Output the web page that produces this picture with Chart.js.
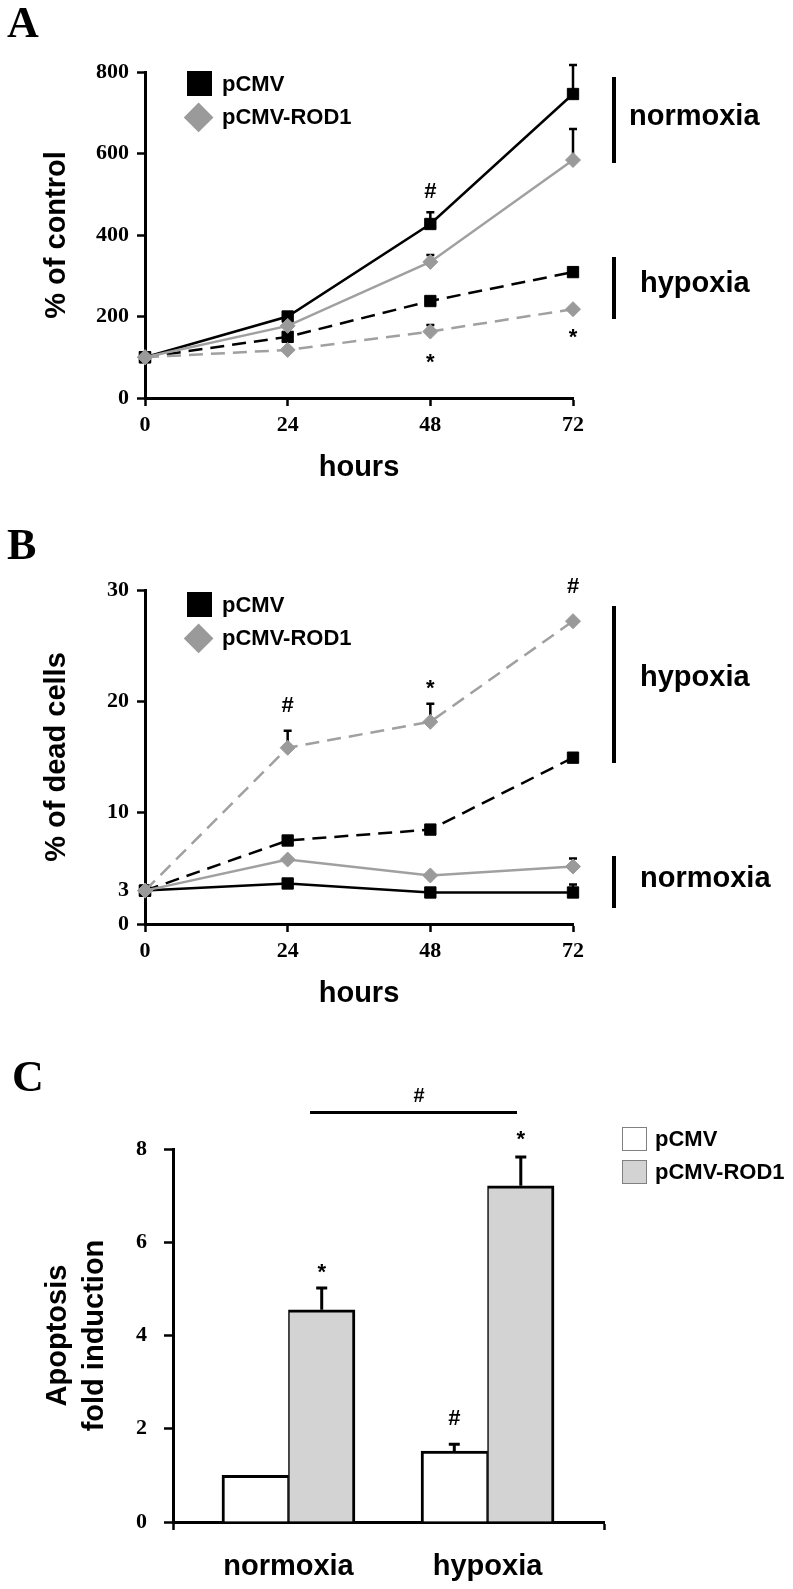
<!DOCTYPE html>
<html>
<head>
<meta charset="utf-8">
<title>ROD1 figure</title>
<script src="https://cdn.jsdelivr.net/npm/chart.js@4.4.1/dist/chart.umd.min.js"></script>
<style>
  html, body { margin:0; padding:0; background:#fff; }
  body { width:793px; height:1589px; position:relative; overflow:hidden; }
  canvas { position:absolute; left:0; }
  .t { position:absolute; font-family:'Liberation Sans', Arial, sans-serif; font-weight:bold; color:#000; white-space:nowrap; line-height:1; }
  .p { position:absolute; font-family:'Liberation Serif', 'Times New Roman', serif; font-weight:bold; color:#000; white-space:nowrap; line-height:1; }
  .blk { position:absolute; }
</style>
</head>
<body>
<canvas id="chartA" width="793" height="510" style="top:0px"></canvas>
<canvas id="chartB" width="793" height="520" style="top:510px"></canvas>
<canvas id="chartC" width="793" height="559" style="top:1030px"></canvas>
<script>
// ---------------- data ----------------
const hours = [0, 24, 48, 72];
const yTicksA = [0, 200, 400, 600, 800];
const yTicksB = [0, 3, 10, 20, 30];
const yTicksBNoMark = [3];
const yTicksC = [0, 2, 4, 6, 8];
const seriesNames = ['pCMV', 'pCMV-ROD1'];
const conditions = ['normoxia', 'hypoxia'];

// Panel A: % of control
const aPCMVNorm = [100, 200, 427, 746];
const aPCMVNormErr = [0, 0, 29, 71];
const aROD1Norm = [100, 177, 334, 584];
const aROD1NormErr = [0, 0, 17, 76];
const aPCMVHyp = [100, 150, 238, 309];
const aPCMVHypErr = [0, 0, 0, 10];
const aROD1Hyp = [100, 118, 163, 218];
const aROD1HypErr = [0, 0, 16, 0];
const aMarks = [{x: 48, y: 505, t: '#'}, {x: 48, y: 98, t: '*'}, {x: 72, y: 160, t: '*'}];

// Panel B: % of dead cells
const bPCMVNorm = [3, 3.64, 2.83, 2.83];
const bPCMVNormErr = [0, 0, 0, 0.72];
const bROD1Norm = [3, 5.79, 4.36, 5.16];
const bROD1NormErr = [0, 0, 0, 0.72];
const bPCMVHyp = [3, 7.5, 8.48, 14.94];
const bPCMVHypErr = [0, 0, 0, 0];
const bROD1Hyp = [3, 15.83, 18.16, 27.2];
const bROD1HypErr = [0, 1.53, 1.62, 0];
const bMarks = [{x: 24, y: 19.6, t: '#'}, {x: 48, y: 21.6, t: '*'}, {x: 72, y: 30.3, t: '#'}];

// Panel C: apoptosis fold induction
const cPCMV = [1.0, 1.52];
const cPCMVErr = [0, 0.15];
const cROD1 = [4.55, 7.21];
const cROD1Err = [0.47, 0.62];
const cMarks = [{ds: 1, i: 0, y: 5.45, t: '*'}, {ds: 0, i: 1, y: 2.21, t: '#'}, {ds: 1, i: 1, y: 8.3, t: '*'}];

// ---------------- styling helpers ----------------
const SANS = "'Liberation Sans', Arial, sans-serif";
const SERIF = "'Liberation Serif', 'Times New Roman', serif";
const BLACK = '#000000';
const GREY_LINE = '#a0a0a0';
const GREY_PT = '#9a9a9a';

function makeErrorBars(cap, width) {
  return {
    id: 'errorBars',
    beforeDatasetsDraw(chart) {
      const ctx = chart.ctx, ys = chart.scales.y;
      chart.data.datasets.forEach((ds, di) => {
        if (!ds.errors) return;
        const meta = chart.getDatasetMeta(di);
        meta.data.forEach((el, i) => {
          const e = ds.errors[i];
          if (!e) return;
          const top = ys.getPixelForValue(ds.data[i].y + e);
          ctx.save();
          ctx.strokeStyle = BLACK; ctx.lineWidth = width;
          ctx.beginPath();
          ctx.moveTo(el.x, el.y); ctx.lineTo(el.x, top);
          ctx.moveTo(el.x - cap, top); ctx.lineTo(el.x + cap, top);
          ctx.stroke();
          ctx.restore();
        });
      });
    }
  };
}

function makeSig(items) {
  return {
    id: 'sigMarks',
    afterDatasetsDraw(chart) {
      const ctx = chart.ctx, ys = chart.scales.y, xs = chart.scales.x;
      const size = 22;
      items.forEach(m => {
        const x = (m.ds !== undefined) ? chart.getDatasetMeta(m.ds).data[m.i].x : xs.getPixelForValue(m.x);
        let y = ys.getPixelForValue(m.y);
        if (m.t === '*') y += 0.24 * size;
        ctx.save();
        ctx.fillStyle = BLACK;
        ctx.font = 'bold ' + size + 'px ' + SANS;
        ctx.textAlign = 'center'; ctx.textBaseline = 'middle';
        ctx.fillText(m.t, x, y);
        ctx.restore();
      });
    }
  };
}

function lineDs(label, vals, errs, grey, dashed) {
  const c = grey ? GREY_LINE : BLACK, p = grey ? GREY_PT : BLACK;
  return {
    label, data: hours.map((h, i) => ({x: h, y: vals[i]})), errors: errs,
    borderColor: c, borderWidth: 2.5, borderDash: dashed ? [14, 8] : [],
    pointStyle: grey ? 'rectRot' : 'rect', pointRadius: grey ? 7.5 : 8,
    pointBackgroundColor: p, pointBorderColor: p, pointBorderWidth: 1,
    tension: 0, fill: false, clip: false
  };
}

function makeLineChart(id, canvasTop, canvasH, areaTop, areaBottom, yTicks, noMark, yTitle, xTitlePad, datasets, marks) {
  return new Chart(document.getElementById(id), {
    type: 'line',
    data: { datasets },
    options: {
      responsive: false, animation: false, devicePixelRatio: 1,
      layout: { padding: { top: areaTop - canvasTop, right: 220, bottom: 0, left: 0 } },
      plugins: { legend: { display: false }, tooltip: { enabled: false } },
      scales: {
        x: {
          type: 'linear', min: hours[0], max: hours[hours.length - 1],
          afterBuildTicks: s => { s.ticks = hours.map(v => ({value: v})); },
          afterFit: s => { s.height = canvasTop + canvasH - areaBottom; },
          border: { display: true, color: BLACK, width: 3 },
          grid: { display: true, offset: false, drawOnChartArea: false, drawTicks: true, tickLength: 8, tickWidth: 2.5, tickColor: BLACK },
          ticks: { color: BLACK, font: { family: SERIF, size: 22, weight: 'bold' }, padding: 6, autoSkip: false, maxRotation: 0 },
          title: { display: true, text: 'hours', color: BLACK, font: { family: SANS, size: 29, weight: 'bold' }, padding: { top: 0, bottom: xTitlePad } }
        },
        y: {
          type: 'linear', min: yTicks[0], max: yTicks[yTicks.length - 1],
          afterBuildTicks: s => { s.ticks = yTicks.map(v => ({value: v})); },
          afterFit: s => { s.width = 145; },
          border: { display: true, color: BLACK, width: 3 },
          grid: { display: true, offset: false, drawOnChartArea: false, drawTicks: true, tickLength: 8, tickWidth: 2.5,
                  tickColor: c => (c.tick && noMark.includes(c.tick.value)) ? 'rgba(0,0,0,0)' : BLACK },
          ticks: { color: BLACK, font: { family: SERIF, size: 22, weight: 'bold' }, padding: 8, autoSkip: false },
          title: { display: true, text: yTitle, color: BLACK, font: { family: SANS, size: 29, weight: 'bold' }, padding: { top: 39.6, bottom: 0 } }
        }
      }
    },
    plugins: [makeErrorBars(4, 2.5), makeSig(marks)]
  });
}

// ---------------- Panel A ----------------
makeLineChart('chartA', 0, 510, 72, 398, yTicksA, [], '% of control', 24.6, [
  lineDs(seriesNames[1] + ' normoxia', aROD1Norm, aROD1NormErr, true, false),
  lineDs(seriesNames[1] + ' hypoxia', aROD1Hyp, aROD1HypErr, true, true),
  lineDs(seriesNames[0] + ' normoxia', aPCMVNorm, aPCMVNormErr, false, false),
  lineDs(seriesNames[0] + ' hypoxia', aPCMVHyp, aPCMVHypErr, false, true)
], aMarks);

// ---------------- Panel B ----------------
makeLineChart('chartB', 510, 520, 590, 924, yTicksB, yTicksBNoMark, '% of dead cells', 18.6, [
  lineDs(seriesNames[1] + ' hypoxia', bROD1Hyp, bROD1HypErr, true, true),
  lineDs(seriesNames[1] + ' normoxia', bROD1Norm, bROD1NormErr, true, false),
  lineDs(seriesNames[0] + ' normoxia', bPCMVNorm, bPCMVNormErr, false, false),
  lineDs(seriesNames[0] + ' hypoxia', bPCMVHyp, bPCMVHypErr, false, true)
], bMarks);

// ---------------- Panel C ----------------
new Chart(document.getElementById('chartC'), {
  type: 'bar',
  data: { datasets: [
    { label: seriesNames[0], data: conditions.map((c, i) => ({x: i + 1, y: cPCMV[i]})), errors: cPCMVErr,
      backgroundColor: '#ffffff', borderColor: BLACK, borderWidth: {top: 3, left: 3, right: 1.5, bottom: 0},
      borderSkipped: 'start', barThickness: 66.5 },
    { label: seriesNames[1], data: conditions.map((c, i) => ({x: i + 1, y: cROD1[i]})), errors: cROD1Err,
      backgroundColor: '#d3d3d3', borderColor: BLACK, borderWidth: {top: 3, left: 1.5, right: 3, bottom: 0},
      borderSkipped: 'start', barThickness: 66.5 }
  ]},
  options: {
    responsive: false, animation: false, devicePixelRatio: 1,
    layout: { padding: { top: 119, right: 189, bottom: 0, left: 0 } },
    plugins: { legend: { display: false }, tooltip: { enabled: false } },
    scales: {
      x: {
        type: 'linear', min: 0.42, max: 2.585, offset: false,
        afterBuildTicks: s => { s.ticks = [s.min].concat(conditions.map((c, i) => i + 1), [s.max]).map(v => ({value: v})); },
        afterFit: s => { s.height = 67; },
        border: { display: true, color: BLACK, width: 3 },
        grid: { display: true, offset: false, drawOnChartArea: false, drawTicks: true, tickLength: 8, tickWidth: 2.5,
                tickColor: c => (c.tick && Number.isInteger(c.tick.value)) ? 'rgba(0,0,0,0)' : BLACK },
        ticks: { color: BLACK, font: { family: SANS, size: 29, weight: 'bold' }, padding: 19.6, autoSkip: false, maxRotation: 0,
                 callback: v => Number.isInteger(v) ? conditions[v - 1] : '' }
      },
      y: {
        type: 'linear', min: yTicksC[0], max: yTicksC[yTicksC.length - 1],
        afterBuildTicks: s => { s.ticks = yTicksC.map(v => ({value: v})); },
        afterFit: s => { s.width = 173; },
        border: { display: true, color: BLACK, width: 3 },
        grid: { display: true, offset: false, drawOnChartArea: false, drawTicks: true, tickLength: 9, tickWidth: 2.5, tickColor: BLACK },
        ticks: { color: BLACK, font: { family: SERIF, size: 22, weight: 'bold' }, padding: 17, autoSkip: false },
        title: { display: true, text: ['Apoptosis', 'fold induction'], color: BLACK,
                 font: { family: SANS, size: 29, weight: 'bold', lineHeight: '37px' }, padding: { top: 39.5, bottom: 0 } }
      }
    }
  },
  plugins: [makeErrorBars(5.5, 3), makeSig(cMarks)]
});

// ---------------- overlay text & legends ----------------
function addText(txt, left, baseline, size, serif) {
  const d = document.createElement('div');
  d.className = serif ? 'p' : 't';
  d.textContent = txt;
  d.style.fontSize = size + 'px';
  d.style.left = left + 'px';
  d.style.top = (baseline - (serif ? 0.8375 : 0.8465) * size) + 'px';
  document.body.appendChild(d);
}
function addBlock(left, top, w, h, css) {
  const d = document.createElement('div');
  d.className = 'blk';
  d.style.left = left + 'px'; d.style.top = top + 'px';
  d.style.width = w + 'px'; d.style.height = h + 'px';
  d.style.cssText += css;
  document.body.appendChild(d);
}
function addDiamond(cx, cy, diag) {
  const s = diag / Math.SQRT2;
  addBlock(cx - s / 2, cy - s / 2, s, s, 'background:' + GREY_PT + ';transform:rotate(45deg);');
}

// panel letters
addText('A', 7, 38, 44, true);
addText('B', 7, 560, 44, true);
addText('C', 12, 1092, 44, true);

// legend A
addBlock(187, 71, 25, 25, 'background:#000;');
addDiamond(199, 118, 30);
addText(seriesNames[0], 222, 91.5, 22);
addText(seriesNames[1], 222, 125, 22);
// legend B
addBlock(187, 592, 25, 25, 'background:#000;');
addDiamond(199, 638.5, 30);
addText(seriesNames[0], 222, 612.5, 22);
addText(seriesNames[1], 222, 646, 22);
// legend C
addBlock(622, 1127, 25, 24, 'box-sizing:border-box;border:1.5px solid #808080;background:#fff;');
addBlock(622, 1160, 25, 24, 'box-sizing:border-box;border:1.5px solid #808080;background:#d3d3d3;');
addText(seriesNames[0], 655, 1147, 22);
addText(seriesNames[1], 655, 1180, 22);

// condition brackets A
addBlock(612, 77, 4, 86, 'background:#000;');
addText(conditions[0], 629, 126, 29);
addBlock(612, 257, 4, 62, 'background:#000;');
addText(conditions[1], 640, 292.5, 29);
// condition brackets B
addBlock(612, 606, 4, 157, 'background:#000;');
addText(conditions[1], 640, 687, 29);
addBlock(612, 856, 4, 52, 'background:#000;');
addText(conditions[0], 640, 888, 29);
// comparison bracket C
addBlock(310, 1110.5, 207, 3, 'background:#000;');
addText('#', 413.5, 1102, 20);
</script>
</body>
</html>
